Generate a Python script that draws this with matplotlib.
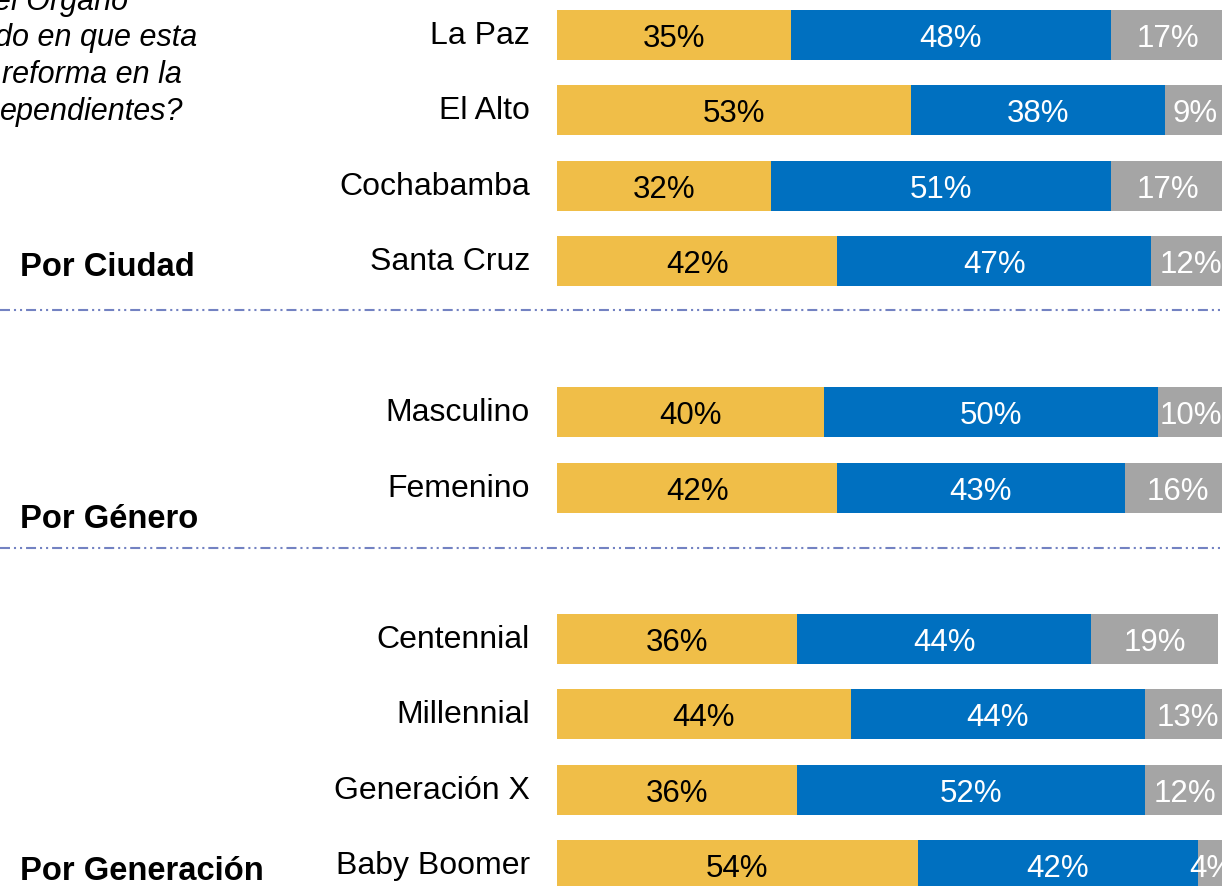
import matplotlib.pyplot as plt
from matplotlib.lines import Line2D

plt.rcParams['font.family'] = ['Liberation Sans', 'DejaVu Sans']

# rows (None = empty gap row)
categories = ['La Paz', 'El Alto', 'Cochabamba', 'Santa Cruz', None,
              'Masculino', 'Femenino', None,
              'Centennial', 'Millennial', 'Generación X', 'Baby Boomer']
de_acuerdo = [35, 53, 32, 42, None, 40, 42, None, 36, 44, 36, 54]
en_desacuerdo = [48, 38, 51, 47, None, 50, 43, None, 44, 44, 52, 42]
ns_nr = [17, 9, 17, 12, None, 10, 16, None, 19, 13, 12, 4]

groups = ['Por Ciudad', 'Por Género', 'Por Generación']
question_lines = ['el Órgano', 'do en que esta', 'reforma en la', 'ependientes?']

W, H = 1222, 887
fig = plt.figure(figsize=(W / 100, H / 100), dpi=100)

row_px = 75.45
top_idx = -36 / row_px
bot_idx = 11 + (H - 866) / row_px
ax = fig.add_axes([557 / W, 0, 665 / W, 1])
ax.set_xlim(0, 99.6)
ax.set_ylim(bot_idx, top_idx)
ax.axis('off')

colors = ['#F0BE48', '#0070C0', '#A5A5A5']
txt_colors = ['black', 'white', 'white']
bh = 0.663
px_per_pct = 665 / 99.6

for i, cat in enumerate(categories):
    if cat is None:
        continue
    left = 0
    for vals, c, tc in zip([de_acuerdo, en_desacuerdo, ns_nr], colors, txt_colors):
        v = vals[i]
        ax.barh(i, v, left=left, height=bh, color=c, edgecolor='none')
        ax.text(left + v / 2, i + 0.04, f'{v}%', ha='center', va='center',
                fontsize=22.5, color=tc, clip_on=False)
        left += v
    ax.text(-27 / px_per_pct, i, cat, ha='right', va='center', fontsize=23, color='black')

# separators
for ypx in [311, 549]:
    fig.add_artist(Line2D([0, 1], [1 - ypx / H, 1 - ypx / H], color='#7382C2',
                          lw=1.5, linestyle=(0, (4.8, 1.9, 1, 1.9, 1, 1.9))))

# group titles
for g, ypx in zip(groups, [268, 520, 872]):
    fig.text(20 / W, 1 - ypx / H, g, ha='left', va='center', fontsize=23.6,
             fontweight='bold')

# cut question text
for line, xr, ypx in zip(question_lines, [128, 197, 182, 183], [0, 38, 75, 112]):
    fig.text(xr / W, 1 - ypx / H, line, ha='right', va='center', fontsize=22,
             style='italic')

fig.savefig('out.png', dpi=100)
